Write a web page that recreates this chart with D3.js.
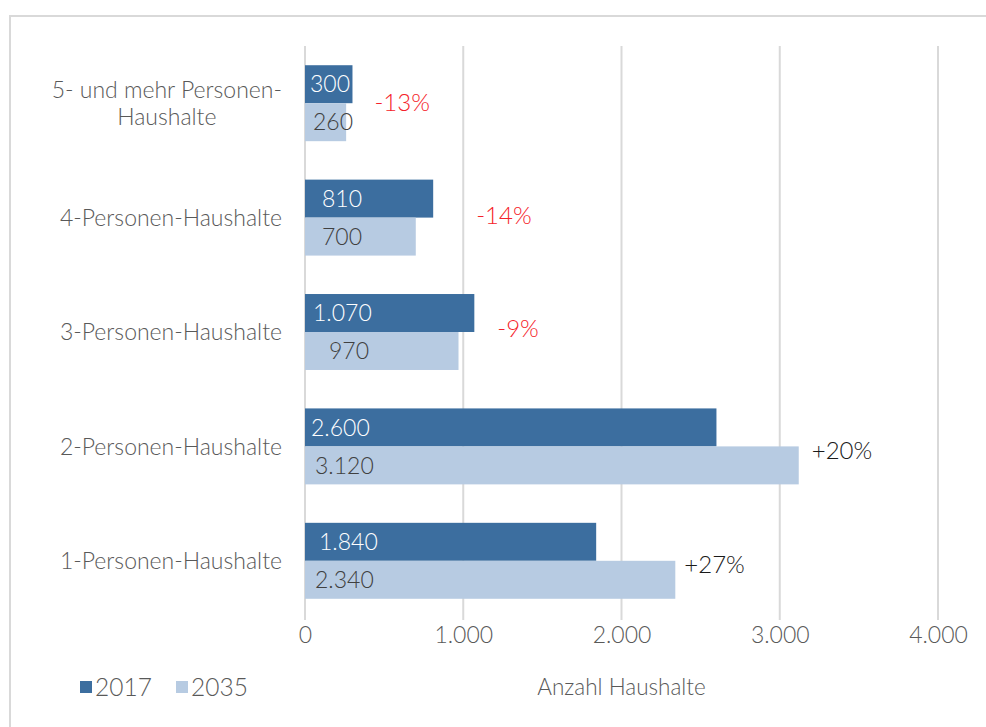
<!DOCTYPE html>
<html>
<head>
<meta charset="utf-8">
<script src="https://cdn.jsdelivr.net/npm/d3@7"></script>
<style>
  body { margin: 0; background: #fff; }
  svg { display: block; font-family: Lato, "Noto Sans", sans-serif; font-weight: 300; }
</style>
</head>
<body>
<div id="vis"></div>
<script>
// data, top to bottom as in the chart
var categories = ["5- und mehr Personen-Haushalte", "4-Personen-Haushalte", "3-Personen-Haushalte", "2-Personen-Haushalte", "1-Personen-Haushalte"];
var series = ["2017", "2035"];
var values2017 = [300, 810, 1070, 2600, 1840];
var values2035 = [260, 700, 970, 3120, 2340];
var xTicks = [0, 1000, 2000, 3000, 4000];

// label nudges (like the hand-moved labels in the original)
var darkLabelDx = [5, 17, 8, 6, 14];
var lightLabelDx = [8, 17, 24, 10, 10];
var pctDx = [22, 43, 23, 13, 9];
var pctDy = [-1, -2, -4, 4, 4];

var width = 986, height = 727;
var colors = d3.scaleOrdinal().domain(series).range(['#3C6E9F', '#B7CBE2']);

var de = d3.formatLocale({decimal: ",", thousands: ".", grouping: [3], currency: ["", " €"]});
var fmt = de.format(",d");

var svg = d3.select('#vis').append('svg')
  .attr('width', width)
  .attr('height', height);

svg.append('rect').attr('width', width).attr('height', height).attr('fill', '#fff');

// outer frame
svg.append('rect')
  .attr('x', 10).attr('y', 16)
  .attr('width', 1000).attr('height', 800)
  .attr('fill', 'none')
  .attr('stroke', '#d9d9d9')
  .attr('stroke-width', 2);

var x = d3.scaleLinear().domain([0, 4000]).range([305, 938]);
var y = d3.scaleBand().domain(categories).range([46, 618])
  .paddingInner(0.336).paddingOuter(0.168);
var ySub = d3.scaleBand().domain(series).range([0, y.bandwidth()]);

// gridlines
svg.append('g').selectAll('line')
  .data(xTicks)
  .enter().append('line')
  .attr('x1', function(d) { return x(d); })
  .attr('x2', function(d) { return x(d); })
  .attr('y1', 46).attr('y2', 620)
  .attr('stroke', '#d9d9d9')
  .attr('stroke-width', 2);

var rows = categories.map(function(c, i) {
  return {cat: c, i: i, v: [values2017[i], values2035[i]]};
});

var groups = svg.append('g').selectAll('.grp')
  .data(rows)
  .enter().append('g')
  .attr('class', 'grp')
  .attr('transform', function(d) { return 'translate(0,' + y(d.cat) + ')'; });

groups.selectAll('rect')
  .data(function(d) { return series.map(function(s, k) { return {s: s, v: d.v[k], i: d.i}; }); })
  .enter().append('rect')
  .attr('x', x(0))
  .attr('y', function(d) { return ySub(d.s); })
  .attr('width', function(d) { return x(d.v) - x(0); })
  .attr('height', ySub.bandwidth())
  .attr('fill', function(d) { return colors(d.s); });

// value labels inside bars
groups.selectAll('.val')
  .data(function(d) { return series.map(function(s, k) { return {s: s, v: d.v[k], i: d.i}; }); })
  .enter().append('text')
  .attr('class', 'val')
  .attr('x', function(d) { return x(0) + (d.s === '2017' ? darkLabelDx[d.i] : lightLabelDx[d.i]); })
  .attr('y', function(d) { return ySub(d.s) + ySub.bandwidth() / 2; })
  .attr('dy', '0.36em')
  .attr('font-size', 23)
  .attr('fill', function(d) { return d.s === '2017' ? '#ffffff' : '#404040'; })
  .text(function(d) { return fmt(d.v); });

// change in percent
groups.append('text')
  .attr('x', function(d) { return x(Math.max(d.v[0], d.v[1])) + pctDx[d.i]; })
  .attr('y', function(d) { return y.bandwidth() / 2 + pctDy[d.i]; })
  .attr('dy', '0.36em')
  .attr('font-size', 24)
  .attr('fill', function(d) { return d.v[1] < d.v[0] ? '#f5222a' : '#1a1a1a'; })
  .text(function(d) {
    var p = Math.round((d.v[1] / d.v[0] - 1) * 100);
    return (p > 0 ? '+' : '') + p + '%';
  });

// category labels (wrap the long one like Excel does)
var catG = svg.append('g').attr('fill', '#595959').attr('font-size', 23);
categories.forEach(function(c) {
  var lines = c.length > 25 ? ['5- und mehr Personen-', 'Haushalte'] : [c];
  var t = catG.append('text').attr('text-anchor', 'middle');
  var cy = y(c) + y.bandwidth() / 2;
  var lh = 27;
  lines.forEach(function(l, k) {
    t.append('tspan')
      .attr('y', cy + (k - (lines.length - 1) / 2) * lh)
      .attr('dy', '0.36em')
      .text(l);
  });
  var w = d3.max(t.selectAll('tspan').nodes(), function(n) { return n.getComputedTextLength(); });
  t.selectAll('tspan').attr('x', 282 - w / 2);
});

// x axis
var xAxis = d3.axisBottom(x).tickValues(xTicks).tickSize(0).tickPadding(23)
  .tickFormat(function(d) { return fmt(d); });
var ax = svg.append('g').attr('transform', 'translate(0,620)').call(xAxis);
ax.select('.domain').remove();
ax.selectAll('text')
  .attr('font-family', 'Lato, "Noto Sans", sans-serif')
  .attr('font-weight', 300)
  .attr('font-size', 23)
  .attr('fill', '#595959')
  .attr('dy', 0);

svg.append('text')
  .attr('x', (x(0) + x(4000)) / 2)
  .attr('y', 695)
  .attr('text-anchor', 'middle')
  .attr('font-size', 22.5)
  .attr('fill', '#595959')
  .text('Anzahl Haushalte');

// legend
var leg = svg.append('g').selectAll('g')
  .data(series)
  .enter().append('g')
  .attr('transform', function(d, i) { return 'translate(' + (80 + i * 96) + ',0)'; });
leg.append('rect')
  .attr('x', 0).attr('y', 681)
  .attr('width', 12).attr('height', 12)
  .attr('fill', function(d) { return colors(d); });
leg.append('text')
  .attr('x', 15).attr('y', 696)
  .attr('font-size', 24.5)
  .attr('fill', '#595959')
  .text(function(d) { return d; });
</script>
</body>
</html>
